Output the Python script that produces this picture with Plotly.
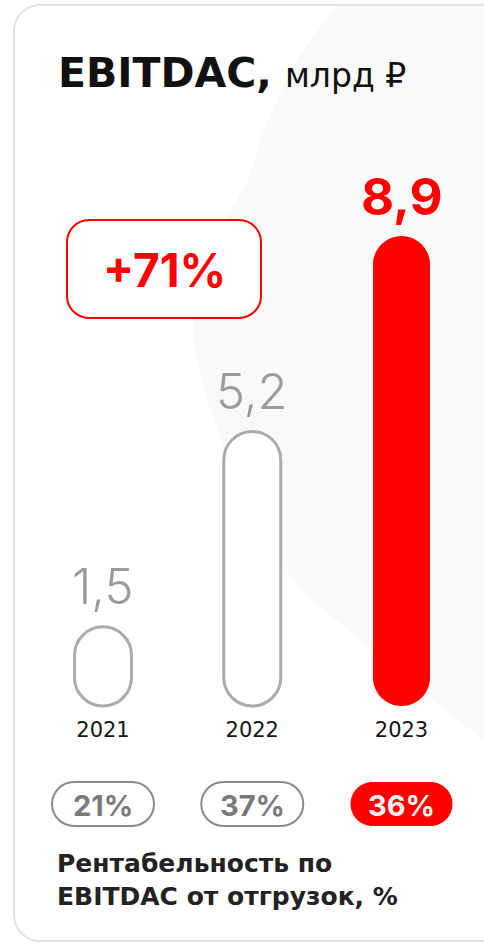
import plotly.graph_objects as go

# ---------------- data ----------------
years = ["2021", "2022", "2023"]
ebitdac = [1.5, 5.2, 8.9]                 # млрд ₽
value_labels = ["1,5", "5,2", "8,9"]
margin_pct = [21, 37, 36]                 # Рентабельность по EBITDAC, %
margin_labels = ["21%", "37%", "36%"]
growth_label = "+71%"
title_main = "EBITDAC,"
title_unit = "млрд ₽"
subtitle = "Рентабельность по<br>EBITDAC от отгрузок, %"

# ---------------- style ----------------
W, H = 484, 943
RED = "#ff0000"
GRAY_BAR = "#ababab"
GRAY_TXT = "#9a9a9a"
PILL_GRAY = "#8a8a8a"
PILL_TXT = "#7a7a7a"
TXT_FONT = "DejaVu Sans"
NUM_FONT = "Inter"

# axis geometry (pixels)
X0_PX, X_STEP = 103.0, 149.25      # centre of first category, px per category
BASE_PX, Y_UNIT = 706.0, 52.8      # baseline pixel row, px per value unit
x_range = [-X0_PX / X_STEP, (W - X0_PX) / X_STEP]
y_range = [-(H - BASE_PX) / Y_UNIT, BASE_PX / Y_UNIT]

K = 0.5523


def round_rect(x0, x1, y0, y1, rx, ry):
    return " ".join([
        f"M{x0},{y0 + ry}", f"L{x0},{y1 - ry}",
        f"C{x0},{y1 - ry + K * ry} {x0 + rx - K * rx},{y1} {x0 + rx},{y1}",
        f"L{x1 - rx},{y1}",
        f"C{x1 - rx + K * rx},{y1} {x1},{y1 - ry + K * ry} {x1},{y1 - ry}",
        f"L{x1},{y0 + ry}",
        f"C{x1},{y0 + ry - K * ry} {x1 - rx + K * rx},{y0} {x1 - rx},{y0}",
        f"L{x0 + rx},{y0}",
        f"C{x0 + rx - K * rx},{y0} {x0},{y0 + ry - K * ry} {x0},{y0 + ry}",
        "Z",
    ])


def px_x(p):
    return p / W


def px_y(p):
    return 1 - p / H


fig = go.Figure()
# invisible trace carrying data (hover)
fig.add_trace(go.Scatter(x=list(range(len(years))), y=ebitdac, mode="markers",
                         marker=dict(size=1, color="rgba(0,0,0,0)"),
                         hovertext=value_labels, hoverinfo="text", showlegend=False))

shapes = []
# faint background blob (decoration)
blob = [(335, 6), (300, 55), (280, 93), (262, 135), (248, 180), (222, 225), (205, 262),
        (194, 300), (193, 335), (198, 365), (207, 400), (225, 450), (247, 500),
        (272, 548), (300, 590), (360, 640), (420, 690), (486, 742), (490, 742), (490, 6)]
blob_path = "M" + " L".join(f"{px_x(a)},{px_y(b)}" for a, b in blob) + " Z"
shapes.append(dict(type="path", xref="paper", yref="paper", layer="below",
                   path=blob_path, fillcolor="#f9f9f9", line=dict(width=0)))
# card border
shapes.append(dict(type="path", xref="paper", yref="paper", layer="below",
                   path=round_rect(px_x(14), px_x(540), px_y(941), px_y(5), 26 / W, 26 / H),
                   line=dict(color="#e2e2e2", width=2)))

# bars
HW = 28.5
for i, v in enumerate(ebitdac):
    last = i == len(ebitdac) - 1
    shapes.append(dict(
        type="path", xref="x", yref="y",
        path=round_rect(i - HW / X_STEP, i + HW / X_STEP, 0, v, HW / X_STEP, HW / Y_UNIT),
        fillcolor=RED if last else "white",
        line=dict(color=RED if last else GRAY_BAR, width=0 if last else 3)))

# growth box
shapes.append(dict(type="path", xref="paper", yref="paper",
                   path=round_rect(px_x(67), px_x(261), px_y(318), px_y(220), 22 / W, 22 / H),
                   fillcolor="white", line=dict(color=RED, width=2)))

# margin pills
PW, PH = 51, 22
PY = 804
for i, m in enumerate(margin_pct):
    last = i == len(margin_pct) - 1
    shapes.append(dict(
        type="path", xref="x", yref="paper",
        path=round_rect(i - PW / X_STEP, i + PW / X_STEP, px_y(PY + PH), px_y(PY - PH),
                        PH / X_STEP, PH / H),
        fillcolor=RED if last else "white",
        line=dict(color=RED if last else PILL_GRAY, width=0 if last else 2)))

annotations = []
# title
annotations.append(dict(
    xref="paper", yref="paper", x=px_x(56), y=px_y(73), xanchor="left", yanchor="middle",
    text=f"<b>{title_main}</b> <span style='font-size:33px'>{title_unit}</span>",
    showarrow=False, font=dict(family=TXT_FONT, size=41, color="#111111")))
# value labels
for i, (v, lab) in enumerate(zip(ebitdac, value_labels)):
    last = i == len(ebitdac) - 1
    annotations.append(dict(
        xref="x", yref="y", x=i, y=v, yshift=40, xanchor="center", yanchor="middle",
        text=lab, showarrow=False,
        font=dict(family=NUM_FONT, size=51 if last else 49, color=RED if last else GRAY_TXT,
                  weight=700 if last else 300)))
# growth
annotations.append(dict(
    xref="paper", yref="paper", x=px_x(164), y=px_y(270), xanchor="center", yanchor="middle",
    text=growth_label, showarrow=False,
    font=dict(family=NUM_FONT, size=46, color=RED, weight=700)))
# pill labels
for i, lab in enumerate(margin_labels):
    last = i == len(margin_labels) - 1
    annotations.append(dict(
        xref="x", yref="paper", x=i, y=px_y(PY + 1), xanchor="center", yanchor="middle",
        text=lab, showarrow=False,
        font=dict(family=NUM_FONT, size=29, color="#f4f4f4" if last else PILL_TXT, weight=700)))
# subtitle
annotations.append(dict(
    xref="paper", yref="paper", x=px_x(55), y=px_y(880), xanchor="left", yanchor="middle",
    align="left", text=subtitle, showarrow=False,
    font=dict(family=TXT_FONT, size=25, color="#222222", weight=700)))

fig.update_layout(
    width=W, height=H, margin=dict(l=0, r=0, t=0, b=0),
    paper_bgcolor="white", plot_bgcolor="rgba(0,0,0,0)",
    showlegend=False, shapes=shapes, annotations=annotations,
    xaxis=dict(range=x_range, domain=[0, 1], anchor="free", position=px_y(BASE_PX),
               tickvals=list(range(len(years))), ticktext=years, ticks="",
               showgrid=False, zeroline=False, showline=False, ticklabelstandoff=9,
               tickfont=dict(family=TXT_FONT, size=21, color="#151515"), fixedrange=True),
    yaxis=dict(range=y_range, domain=[0, 1], visible=False, fixedrange=True),
)

fig.write_html("out.html", config={"displayModeBar": False},
               post_script="document.body.style.margin='0';document.body.style.overflow='hidden';")
